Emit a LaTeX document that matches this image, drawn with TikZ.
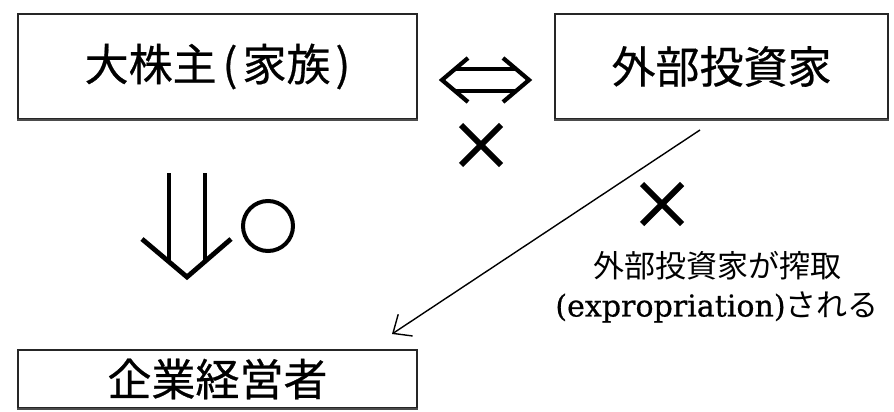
\documentclass[tikz,border=0pt]{standalone}
\usepackage{fontspec}
\newfontfamily\jp{Noto Sans CJK JP}[FakeBold=0.5]
\newfontfamily\jplbl{Noto Sans CJK JP}
\newfontfamily\lat{DejaVu Serif}[Scale=0.97, FakeBold=0.6]
\usetikzlibrary{arrows.meta}
\tikzset{
  box/.style={draw=black!85, line width=1.3pt, inner sep=0pt,
    font=\jp\fontsize{44}{48}\selectfont},
  shadowline/.style={draw=black!70, line width=2.2pt},
  sym/.style={line width=4.2pt, line join=miter},
  cross/.style={line width=6pt},
  conn/.style={line width=1.4pt, -{Straight Barb[length=15pt,width=26pt,line width=1.4pt]}},
  lbl/.style={align=center, inner sep=0pt, font=\jplbl\fontsize{31}{39}\selectfont}
}
\begin{document}
\begin{tikzpicture}[x=1pt,y=-1pt]
\useasboundingbox[fill=white] (0,0) rectangle (894,412);
% boxes
\node[box, minimum width=399pt, minimum height=105pt] (holder) at (217.5,66.5) {大株主\kern6pt(\kern5pt家族\kern5pt)};
\node[box, minimum width=333pt, minimum height=105pt] (outside) at (721.5,66.5) {外部投資家};
\node[box, minimum width=399pt, minimum height=58pt] (manager) at (217.5,379) {企業経営者};
\draw[shadowline] (holder.south west) -- (holder.south east);
\draw[shadowline] (outside.south west) -- (outside.south east);
\draw[shadowline] (manager.south west) -- (manager.south east);
% double arrow (left-right)
\draw[sym] (468,58) -- (442,80) -- (468,102);
\draw[sym] (503,58) -- (529,80) -- (503,102);
\draw[sym] (455,69) -- (516,69);
\draw[sym] (455,91) -- (516,91);
% cross 1
\draw[cross] (461,125) -- (501,165);
\draw[cross] (461,165) -- (501,125);
% double arrow down
\draw[sym, line width=4.8pt] (169,173) -- (169,262);
\draw[sym, line width=4.8pt] (205,173) -- (205,262);
\draw[sym, line width=4.8pt] (142,239) -- (187,277) -- (231,239);
% circle
\draw[line width=4pt] (268,226) circle (25);
% diagonal connector
\coordinate (from) at (700,130);
\coordinate (to) at (392,334);
\draw[conn] (from) -- (to);
% cross 2
\draw[cross] (642,184) -- (682,224);
\draw[cross] (642,224) -- (682,184);
% label
\node[lbl] (label) at (717,287) {外部投資家が搾取\\{\lat (expropriation)}される};
\end{tikzpicture}
\end{document}
